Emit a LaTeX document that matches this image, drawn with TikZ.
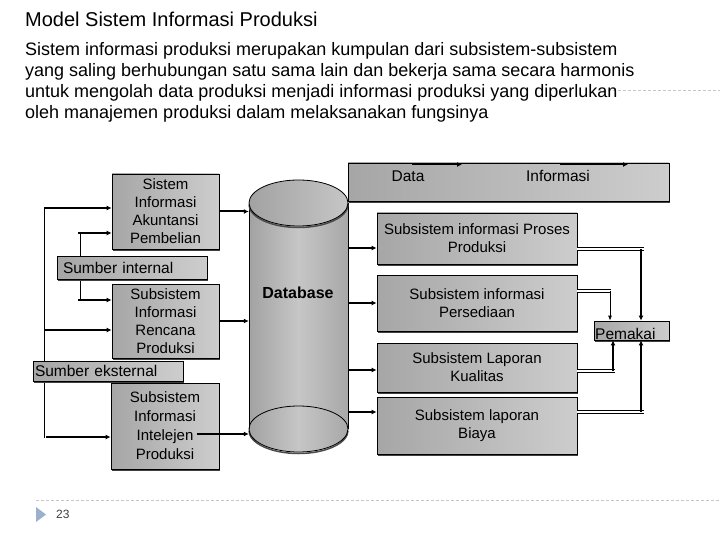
\documentclass[tikz,border=0pt]{standalone}
\usepackage{fontspec}
\setmainfont{Liberation Sans}
\usetikzlibrary{shadows,arrows.meta,calc}
\definecolor{bdark}{HTML}{A6A6A6}
\definecolor{blight}{HTML}{CDCDCD}
\definecolor{cyl1}{HTML}{A2A2A2}
\definecolor{cyl2}{HTML}{C6C6C6}
\definecolor{cyl3}{HTML}{A8A8A8}
\definecolor{tri}{HTML}{9BB0CC}
\begin{document}
\begin{tikzpicture}[x=1pt,y=-1pt,
  box/.style={draw=black, line width=0.8pt, left color=bdark, right color=blight,
    align=center, font=\fontsize{15}{18}\selectfont, inner sep=0pt,
    drop shadow={shadow xshift=1pt,shadow yshift=-2pt,fill=black!75,opacity=1}},
  srcbox/.style={box, align=left, inner xsep=4pt, font=\fontsize{15.5}{18}\selectfont},
  tarr/.style={line width=2pt, -{Latex[length=5pt,width=5pt]}},
  thin/.style={line width=0.8pt},
  narr/.style={line width=0.8pt, -{Latex[length=5pt,width=4pt]}},
  dbl/.style={double, double distance=2pt, line width=0.6pt},
  boxtext/.style={font=\fontsize{15.5}{18}\selectfont, inner sep=0pt}
]
\useasboundingbox (0,0) rectangle (720,540);
\fill[white] (0,0) rectangle (720,540);

% template dashed lines
\draw[gray!45, line width=0.6pt, dash pattern=on 3pt off 2pt] (598,90) -- (720,90);
\draw[gray!45, line width=0.6pt, dash pattern=on 3pt off 2pt] (36,500) -- (720,500);

% title and text
\node[anchor=west, inner sep=0pt, font=\fontsize{20}{24}\selectfont] (title) at (25,19) {Model Sistem Informasi Produksi};
\node[anchor=north west, inner sep=0pt, align=left, font=\fontsize{18}{21}\selectfont] (body) at (25,42)
 {Sistem informasi produksi merupakan kumpulan dari subsistem-subsistem\\
  yang saling berhubungan satu sama lain dan bekerja sama secara harmonis\\
  untuk mengolah data produksi menjadi informasi produksi yang diperlukan\\
  oleh manajemen produksi dalam melaksanakan fungsinya};

% footer
\fill[tri] (36,507) -- (46,514.5) -- (36,522) -- cycle;
\node[anchor=west, inner sep=0pt, font=\fontsize{12}{14}\selectfont, text=black!75] (pg) at (56,514) {23};

% cylinder
\coordinate (ctop) at (298.5,203);
\coordinate (cbot) at (298.5,429);
\path[left color=cyl1, right color=cyl3, middle color=cyl2]
  (249,203) -- (249,429) arc[start angle=180, end angle=360, x radius=49.5pt, y radius=23pt]
  -- (348,203) -- cycle;
\draw[thin] (249,203) -- (249,429);
\draw[thin] (348,203) -- (348,429);
\draw[black!70, line width=1.5pt] ([yshift=-1.5pt]249,429) arc[start angle=180, end angle=360, x radius=49.5pt, y radius=23pt];
\draw[thin] (cbot) ellipse [x radius=49.5pt, y radius=23pt];
\shade[left color=cyl1, right color=cyl2] (ctop) ellipse [x radius=49.5pt, y radius=23pt];
\draw[black!70, line width=1.5pt] ([yshift=-1.5pt]249,203) arc[start angle=180, end angle=360, x radius=49.5pt, y radius=23pt];
\draw[thin] (ctop) ellipse [x radius=49.5pt, y radius=23pt];
\node[minimum width=99pt, minimum height=272pt, inner sep=0pt] (db) at (298.5,316) {};
\node[font=\fontsize{16}{18}\selectfont\bfseries, inner sep=0pt] (dbl) at (298,293) {Database};

% left boxes
\node[box, minimum width=107pt, minimum height=75pt] (akun) at (165.5,211.5) {Sistem\\Informasi\\Akuntansi\\Pembelian};
\node[box, minimum width=107pt, minimum height=74pt] (renc) at (165.5,321) {Subsistem\\Informasi\\Rencana\\Produksi};
\node[box, minimum width=108pt, minimum height=86pt, font=\fontsize{15}{19}\selectfont] (intel) at (165,426) {Subsistem\\Informasi\\Intelejen\\Produksi};

% left connectors
\coordinate (L1) at (44,208);
\coordinate (L2) at (44,330);
\coordinate (L3) at (46,437);
\coordinate (Lb) at (44,438);
\coordinate (M1) at (80,233);
\coordinate (M1a) at (78,233);
\coordinate (M2) at (78,300);
\coordinate (M2a) at (80,300);
\draw[thin] (L1) -- (Lb);
\draw[thin] (M1) -- (M2a);
\draw[tarr] (L1) -- (L1 -| akun.west);
\draw[tarr] (M1a) -- (M1a -| akun.west);
\draw[tarr] (M2) -- (M2 -| renc.west);
\draw[tarr] (L2) -- (L2 -| renc.west);
\draw[tarr] (L3) -- (L3 -| intel.west);

% source boxes (drawn over the vertical lines)
\node[srcbox, inner xsep=6pt, text width=138pt, minimum height=23pt] (sint) at (132,267.5) {Sumber internal};
\node[srcbox, inner xsep=2pt, text width=146pt, minimum height=20pt] (sext) at (108,371) {Sumber eksternal};

% to database
\coordinate (I1) at (197,434);
\draw[tarr] (akun.east) -- (akun.east -| db.west);
\draw[tarr] (renc.east) -- (renc.east -| db.west);
\draw[tarr] (I1) -- (I1 -| db.west);

% data/informasi box
\node[box, minimum width=321pt, minimum height=38pt] (dibox) at (508.5,182) {};
\node[boxtext] (dtext) at (408,176) {Data};
\node[boxtext] (itext) at (558,176) {Informasi};
\coordinate (D1) at (412,164.5);
\coordinate (D2) at (462,164.5);
\coordinate (D3) at (560,164.5);
\coordinate (D4) at (628,164.5);
\draw[tarr] (D1) -- (D2);
\draw[tarr] (D3) -- (D4);

% right boxes
\node[box, minimum width=200pt, minimum height=51pt] (proses) at (477,238.5) {Subsistem informasi Proses\\Produksi};
\node[box, minimum width=200pt, minimum height=56pt] (persed) at (477,303) {Subsistem informasi\\Persediaan};
\node[box, minimum width=200pt, minimum height=49pt] (kual) at (477,367.5) {Subsistem Laporan\\Kualitas};
\node[box, minimum width=200pt, minimum height=57pt] (biaya) at (477,425.5) {Subsistem laporan\\Biaya};
\node[box, minimum width=75pt, minimum height=19pt] (pem) at (631.5,330.5) {};
\node[boxtext, anchor=base west] (pemt) at (595,339) {Pemakai};

% database to right boxes
\coordinate (R1) at (348,248);
\coordinate (R2) at (348,303);
\coordinate (R3) at (348,370);
\coordinate (R4) at (348,412);
\draw[tarr] (R1) -- (R1 -| proses.west);
\draw[tarr] (R2) -- (R2 -| persed.west);
\draw[tarr] (R3) -- (R3 -| kual.west);
\draw[tarr] (R4) -- (R4 -| biaya.west);

% right connectors to Pemakai
\coordinate (P1) at (577,249);
\coordinate (P1e) at (644,249);
\coordinate (P1v) at (641,249);
\coordinate (P2) at (577,291);
\coordinate (P2e) at (611,291);
\coordinate (P2v) at (610,291);
\coordinate (P3) at (577,371);
\coordinate (P3e) at (615,371);
\coordinate (P3v) at (613,371);
\coordinate (P4) at (577,412);
\coordinate (P4e) at (644,412);
\coordinate (P4v) at (641,412);
\draw[dbl] (P1) -- (P1e);
\draw[dbl] (P2) -- (P2e);
\draw[dbl] (P3) -- (P3e);
\draw[dbl] (P4) -- (P4e);
\draw[tarr] (P1v) -- (P1v |- pem.north);
\draw[narr] (P2v) -- (P2v |- pem.north);
\draw[tarr] (P3v) -- (P3v |- pem.south);
\draw[tarr] (P4v) -- (P4v |- pem.south);
\end{tikzpicture}
\end{document}
